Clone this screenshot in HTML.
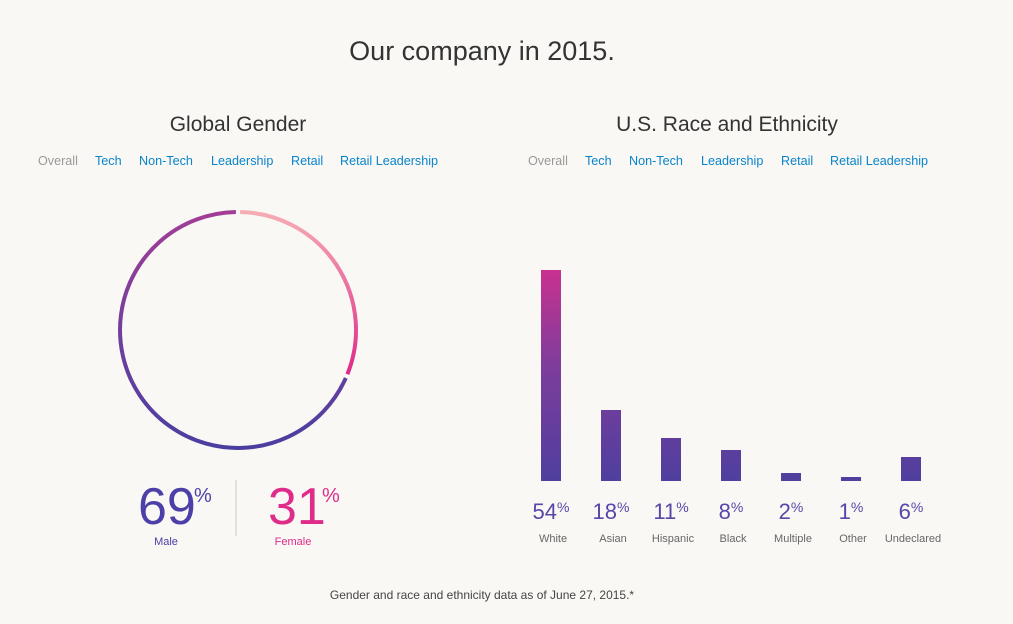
<!DOCTYPE html>
<html><head><meta charset="utf-8"><style>
body{margin:0;background:#f9f8f5;width:1013px;height:624px;overflow:hidden;font-family:"Liberation Sans",sans-serif;}
svg{display:block}
</style></head><body>
<svg width="1013" height="624" viewBox="0 0 1013 624" font-family="Liberation Sans, sans-serif">
<defs>
<linearGradient id="fg" gradientUnits="userSpaceOnUse" x1="0" y1="212" x2="0" y2="372">
<stop offset="0" stop-color="#f5adb3"/><stop offset="1" stop-color="#df2b8a"/></linearGradient>
<linearGradient id="mg" gradientUnits="userSpaceOnUse" x1="0" y1="212" x2="0" y2="448">
<stop offset="0" stop-color="#a23d96"/><stop offset="0.6" stop-color="#6a3f9e"/><stop offset="1" stop-color="#4c3e9f"/></linearGradient>
<linearGradient id="bg" gradientUnits="userSpaceOnUse" x1="0" y1="270" x2="0" y2="481">
<stop offset="0" stop-color="#c9318f"/><stop offset="0.45" stop-color="#7e3d9c"/><stop offset="1" stop-color="#4f3f9e"/></linearGradient>
</defs>
<text x="482" y="60" font-size="27" fill="#333" text-anchor="middle">Our company in 2015.</text>
<text x="238" y="131" font-size="21" fill="#333" text-anchor="middle">Global Gender</text>
<text x="727" y="131" font-size="21" fill="#333" text-anchor="middle">U.S. Race and Ethnicity</text>
<g font-size="12.6" fill="#0a84cc">
<text x="38" y="165" fill="#999">Overall</text><text x="95" y="165">Tech</text><text x="139" y="165">Non-Tech</text><text x="211" y="165">Leadership</text><text x="291" y="165">Retail</text><text x="340" y="165">Retail Leadership</text>
<text x="528" y="165" fill="#999">Overall</text><text x="585" y="165">Tech</text><text x="629" y="165">Non-Tech</text><text x="701" y="165">Leadership</text><text x="781" y="165">Retail</text><text x="830" y="165">Retail Leadership</text>
</g>
<path d="M240.1 212.0 A118 118 0 0 1 347.4 374.2" fill="none" stroke="url(#fg)" stroke-width="4"/>
<path d="M345.8 378.0 A118 118 0 1 1 235.9 212.0" fill="none" stroke="url(#mg)" stroke-width="4"/>
<text x="138" y="524" font-size="52" fill="#4c3fa8">69</text>
<text x="194" y="502" font-size="20" fill="#4c3fa8">%</text>
<text x="166" y="545" font-size="11" fill="#4c3fa8" text-anchor="middle">Male</text>
<line x1="236" y1="480" x2="236" y2="536" stroke="#ccc"/>
<text x="268" y="524" font-size="52" fill="#df2b8a">31</text>
<text x="322" y="502" font-size="20" fill="#df2b8a">%</text>
<text x="293" y="545" font-size="11" fill="#df2b8a" text-anchor="middle">Female</text>
<g fill="url(#bg)">
<rect x="541" y="270" width="20" height="211"/><rect x="601" y="410" width="20" height="71"/><rect x="661" y="438" width="20" height="43"/><rect x="721" y="450" width="20" height="31"/><rect x="781" y="473" width="20" height="8"/><rect x="841" y="477" width="20" height="4"/><rect x="901" y="457" width="20" height="24"/>
</g>
<g font-size="22" fill="#5a45a8" text-anchor="middle">
<text x="551" y="519">54<tspan font-size="14" dy="-7">%</tspan></text>
<text x="611" y="519">18<tspan font-size="14" dy="-7">%</tspan></text>
<text x="671" y="519">11<tspan font-size="14" dy="-7">%</tspan></text>
<text x="731" y="519">8<tspan font-size="14" dy="-7">%</tspan></text>
<text x="791" y="519">2<tspan font-size="14" dy="-7">%</tspan></text>
<text x="851" y="519">1<tspan font-size="14" dy="-7">%</tspan></text>
<text x="911" y="519">6<tspan font-size="14" dy="-7">%</tspan></text>
</g>
<g font-size="11" fill="#666" text-anchor="middle">
<text x="553" y="542">White</text><text x="613" y="542">Asian</text><text x="673" y="542">Hispanic</text><text x="733" y="542">Black</text><text x="793" y="542">Multiple</text><text x="853" y="542">Other</text><text x="913" y="542">Undeclared</text>
</g>
<text x="482" y="599" font-size="12" fill="#444" text-anchor="middle">Gender and race and ethnicity data as of June 27, 2015.*</text>
</svg>
</body></html>
